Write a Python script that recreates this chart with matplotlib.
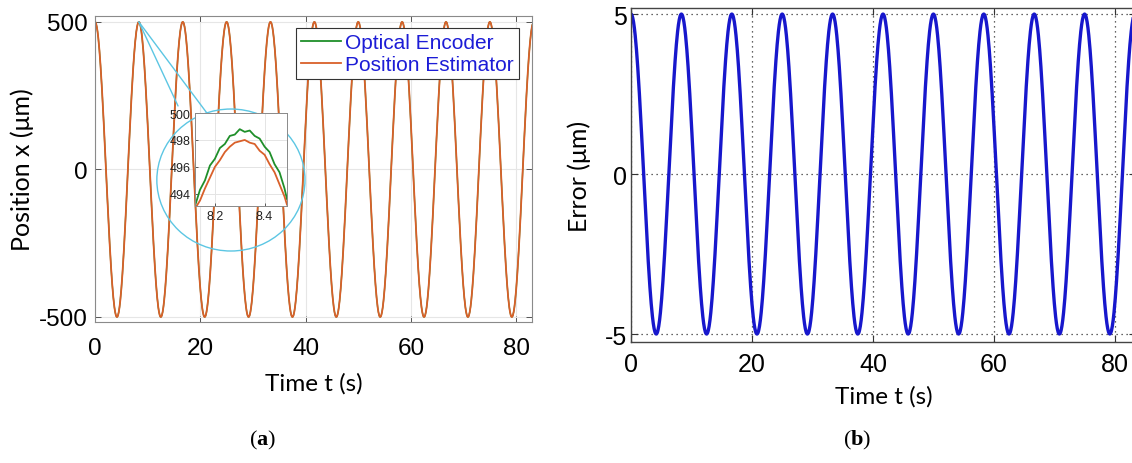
import numpy as np
import matplotlib.pyplot as plt
from matplotlib.patches import Ellipse, ConnectionPatch

# extrema of the position signal (s, um)
ext_t = [0, 4.17, 8.33, 12.5, 16.67, 20.83, 25, 29.17, 33.33, 37.5, 41.67,
         45.83, 50, 54.17, 58.33, 62.5, 66.67, 70.83, 75, 79.17, 83.33]
pos_ext = [500, -500, 500, -500, 500, -500, 500, -500, 500, -500, 500,
           -500, 500, -500, 500, -500, 500, -500, 500, -500, 500]
# extrema of the error signal (um), panel (b)
err_ext = [5, -5, 5, -5, 5, -5, 5, -5, 5, -5, 5,
           -5, 5, -5, 5, -5, 5, -5, 5, -5, 5]

# zoomed peak near t = 8.3 s
zoom_t = [8.12, 8.14, 8.16, 8.18, 8.20, 8.22, 8.24, 8.26, 8.28, 8.30,
          8.32, 8.34, 8.36, 8.38, 8.40, 8.42, 8.44, 8.46, 8.48, 8.49]
enc_zoom = [493.1, 494.3, 495.0, 496.1, 496.6, 497.4, 497.7, 498.3, 498.4, 498.8,
            498.6, 498.7, 498.3, 498.1, 497.5, 497.1, 496.2, 495.6, 494.4, 493.6]
est_zoom = [492.9, 493.5, 494.4, 495.2, 496.0, 496.5, 497.1, 497.5, 497.8, 497.9,
            498.0, 497.8, 497.7, 497.2, 496.9, 496.2, 495.6, 494.7, 493.8, 493.2]

legend_labels = ['Optical Encoder', 'Position Estimator']


# smooth half-cosine joins between consecutive extrema
def smooth(tk, vk, n=60):
    tt, vv = [], []
    for i in range(len(tk) - 1):
        s = np.linspace(0, 1, n, endpoint=False)
        tt.append(tk[i] + (tk[i + 1] - tk[i]) * s)
        vv.append(vk[i] + (vk[i + 1] - vk[i]) * (1 - np.cos(np.pi * s)) / 2)
    tt.append([tk[-1]])
    vv.append([vk[-1]])
    return np.concatenate(tt), np.concatenate(vv)


t_pos, pos = smooth(ext_t, pos_ext)
t_err, err = smooth(ext_t, err_ext)

plt.rcParams['mathtext.fontset'] = 'custom'
plt.rcParams['mathtext.bf'] = 'Liberation Serif:bold'
plt.rcParams['mathtext.rm'] = 'Liberation Serif'
plt.rcParams['axes.unicode_minus'] = False

W, H = 1132, 464
fig = plt.figure(figsize=(W / 100, H / 100), dpi=100)

green = '#1f8f2a'
orange = '#d9602a'
cyan = '#5cc6e3'
lab_font = ['Lato', 'DejaVu Sans']

# ---------------- panel (a) ----------------
ax = fig.add_axes([95 / W, (H - 323) / H, 437 / W, 306 / H])
ax.plot(t_pos, pos, color=green, lw=1.0, label=legend_labels[0])
ax.plot(t_pos, pos, color=orange, lw=1.3, label=legend_labels[1])
ax.set_xlim(0, 83)
ax.set_ylim(-517, 520)
ax.set_xticks([0, 20, 40, 60, 80])
ax.set_yticks([-500, 0, 500])
ax.grid(True, color='#e6e6e6', lw=0.8)
ax.tick_params(direction='in', length=4, width=0.7, color='#555555',
               top=True, right=True, labelsize=17.5)
ax.tick_params(axis='x', pad=11)
ax.tick_params(axis='y', pad=5)
for lbl in ax.get_xticklabels() + ax.get_yticklabels():
    lbl.set_family('Liberation Sans')
for sp in ax.spines.values():
    sp.set_color('#8a8a8a')
    sp.set_linewidth(0.8)
ax.set_xlabel('Time t (s)', fontsize=17.5, family=lab_font, labelpad=9)
ax.set_ylabel('Position x (μm)', fontsize=18, family=lab_font, labelpad=4)

leg = ax.legend(loc='upper right', bbox_to_anchor=(0.970, 0.961), borderaxespad=0,
                fancybox=False, framealpha=1, edgecolor='#333333',
                prop={'family': 'Liberation Sans', 'size': 15},
                handlelength=1.9, handletextpad=0.2, labelspacing=0.15, borderpad=0.25)
leg.get_frame().set_linewidth(0.8)
for line in leg.get_lines():
    line.set_linewidth(1.3)
for txt in leg.get_texts():
    txt.set_color('#1c1cd6')

# magnifier circle and connectors
circ = Ellipse((0.311, 0.464), 0.339, 0.464, transform=ax.transAxes,
               fill=False, edgecolor=cyan, lw=1.0, zorder=4)
ax.add_patch(circ)
for xb, yb in [(0.19, 0.706), (0.256, 0.683)]:
    con = ConnectionPatch(xyA=(ext_t[2], pos_ext[2]), coordsA=ax.transData,
                          xyB=(xb, yb), coordsB=ax.transAxes,
                          color=cyan, lw=1.0, zorder=4)
    ax.add_artist(con)

# inset
axi = fig.add_axes([195 / W, (H - 207) / H, 92 / W, 93 / H])
axi.plot(zoom_t, enc_zoom, color=green, lw=1.3)
axi.plot(zoom_t, est_zoom, color=orange, lw=1.3)
axi.set_xlim(8.12, 8.49)
axi.set_ylim(493.1, 500)
axi.set_xticks([8.2, 8.4])
axi.set_yticks([494, 496, 498, 500])
axi.grid(True, color='#e4e4e4', lw=0.7)
axi.tick_params(direction='in', length=2, width=0.5, labelsize=9, pad=3,
                colors='#222222')
for lbl in axi.get_xticklabels() + axi.get_yticklabels():
    lbl.set_family('Liberation Sans')
for sp in axi.spines.values():
    sp.set_color('#8a8a8a')
    sp.set_linewidth(0.7)

# ---------------- panel (b) ----------------
bx = fig.add_axes([631 / W, (H - 343) / H, 505 / W, 334 / H])
bx.plot(t_err, err, color='#1717cc', lw=2.4)
bx.set_xlim(0, 83.5)
bx.set_ylim(-5.25, 5.19)
bx.set_xticks([0, 20, 40, 60, 80])
bx.set_yticks([-5, 0, 5])
bx.grid(True, color='#333333', ls=(0, (1, 3)), lw=0.9)
bx.tick_params(direction='in', length=5, width=0.8, color='#333333',
               top=True, right=True, labelsize=18)
bx.tick_params(axis='x', pad=7)
bx.tick_params(axis='y', pad=3)
for lbl in bx.get_xticklabels() + bx.get_yticklabels():
    lbl.set_family('Liberation Sans')
for sp in bx.spines.values():
    sp.set_color('#444444')
    sp.set_linewidth(1.0)
bx.set_xlabel('Time t (s)', fontsize=17.5, family=lab_font, labelpad=7)
bx.set_ylabel('Error (μm)', fontsize=18, family=lab_font, labelpad=10)

# captions
fig.text(263 / W, 1 - 440 / H, r'($\mathbf{a}$)', family='Liberation Serif',
         fontsize=16, ha='center', va='center')
fig.text(857 / W, 1 - 440 / H, r'($\mathbf{b}$)', family='Liberation Serif',
         fontsize=16, ha='center', va='center')

fig.savefig('out.png', dpi=100)
